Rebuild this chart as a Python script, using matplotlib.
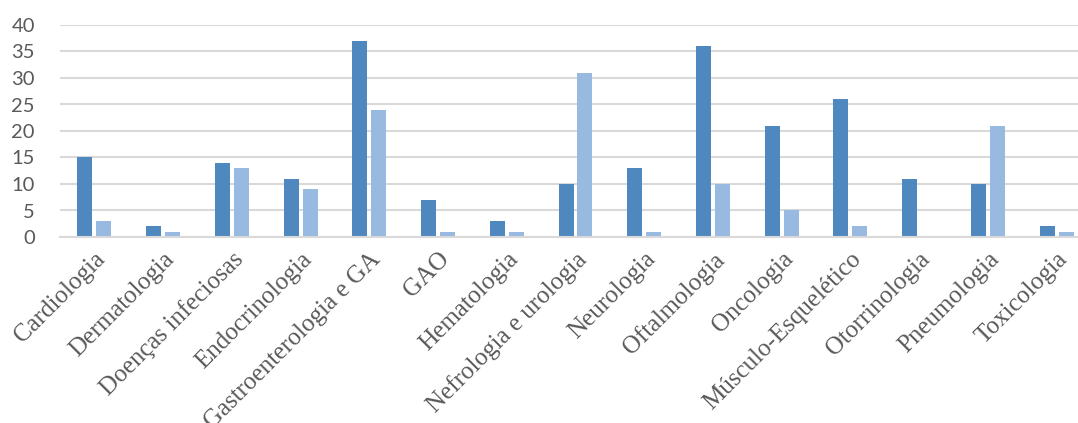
import matplotlib
matplotlib.use("Agg")
import matplotlib.pyplot as plt
import numpy as np

categories = ["Cardiologia", "Dermatologia", "Doenças infeciosas", "Endocrinologia",
              "Gastroenterologia e GA", "GAO", "Hematologia", "Nefrologia e urologia",
              "Neurologia", "Oftalmologia", "Oncologia", "Músculo-Esquelético",
              "Otorrinologia", "Pneumologia", "Toxicologia"]
series1 = [15, 2, 14, 11, 37, 7, 3, 10, 13, 36, 21, 26, 11, 10, 2]
series2 = [3, 1, 13, 9, 24, 1, 1, 31, 1, 10, 5, 2, 0, 21, 1]
yticks = [0, 5, 10, 15, 20, 25, 30, 35, 40]

W, H = 1078, 423
fig = plt.figure(figsize=(W / 100, H / 100), dpi=100)
left, right = 60, 1091
bottom, top = 237, 25
ax = fig.add_axes([left / W, (H - bottom) / H, (right - left) / W, (bottom - top) / H])

x = np.arange(len(categories))
bw = 0.218
off = 0.138
ax.bar(x - off, series1, width=bw, color="#4F88BE", zorder=3)
ax.bar(x + off, series2, width=bw, color="#98B9E0", zorder=3)

ax.set_xlim(-0.5, len(categories) - 0.5)
ax.set_ylim(0, 40)
ax.set_yticks(yticks)
ax.set_yticklabels([str(v) for v in yticks], fontfamily="Lato", fontsize=14.5, color="#595959")
ax.yaxis.grid(True, color="#D9D9D9", linewidth=1.5, zorder=0)
ax.tick_params(axis="y", length=0, pad=18)
ax.tick_params(axis="x", length=0, pad=8)
for s in ["left", "right", "top"]:
    ax.spines[s].set_visible(False)
ax.spines["bottom"].set_color("#D9D9D9")
ax.spines["bottom"].set_linewidth(1.5)
ax.spines["bottom"].set_zorder(4)

ax.set_xticks(x)
ax.set_xticklabels(categories, rotation=45, ha="right", va="top", rotation_mode="anchor",
                   fontfamily="Liberation Serif", fontsize=18, color="#595959")

fig.savefig("out.png", dpi=100)
